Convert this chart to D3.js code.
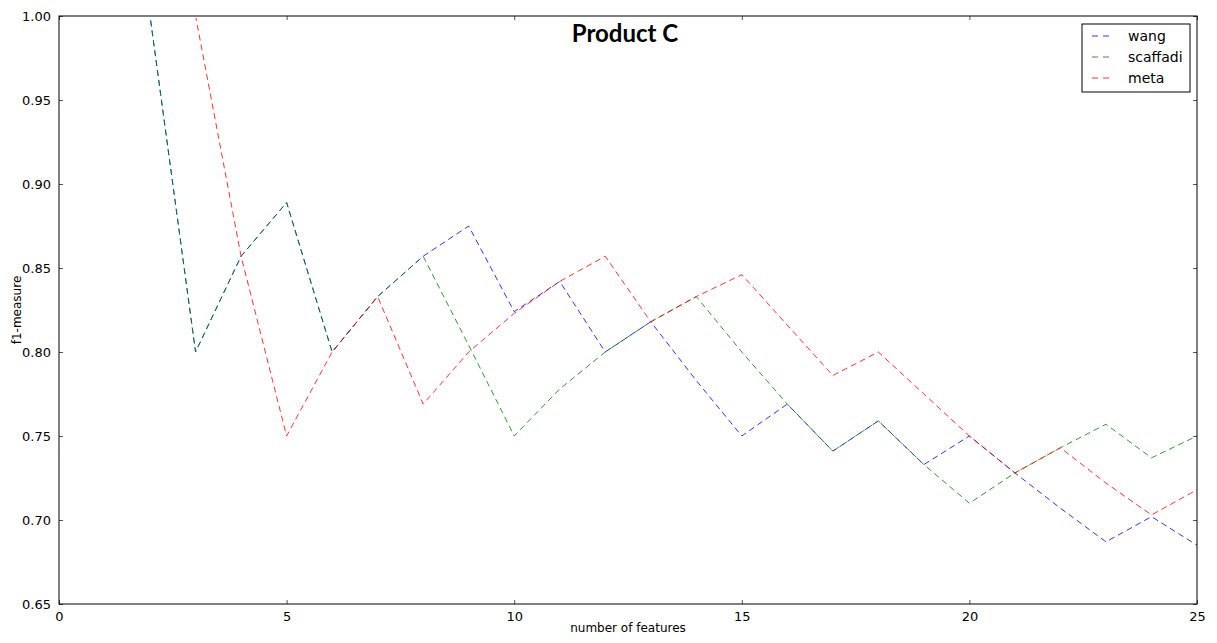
<!DOCTYPE html>
<html>
<head>
<meta charset="utf-8">
<script src="https://cdnjs.cloudflare.com/ajax/libs/d3/7.8.5/d3.min.js"></script>
<style>
	body{margin:0;background:#fff;}
	svg text{font-family:"DejaVu Sans",sans-serif;fill:#000;}
</style>
</head>
<body>
<div id="chartDiv"></div>
<script>
var features=[1,2,3,4,5,6,7,8,9,10,11,12,13,14,15,16,17,18,19,20,21,22,23,24,25];
var wang=[1.0,1.0,0.80,0.857,0.889,0.80,0.833,0.857,0.875,0.824,0.842,0.80,0.818,0.783,0.75,0.769,0.741,0.759,0.733,0.75,0.728,0.707,0.687,0.702,0.685];
var scaffadi=[1.0,1.0,0.80,0.857,0.889,0.80,0.833,0.857,0.804,0.75,0.778,0.80,0.818,0.833,0.80,0.769,0.741,0.759,0.733,0.71,0.728,0.743,0.757,0.737,0.75];
var meta=[1.0,1.0,1.0,0.857,0.75,0.80,0.833,0.769,0.80,0.823,0.842,0.857,0.818,0.833,0.846,0.816,0.786,0.80,0.775,0.75,0.728,0.743,0.722,0.703,0.718];
var seriesNames=["wang","scaffadi","meta"];
var seriesColors=["#0000ff","#008000","#ff0000"];
var xTicks=[0,5,10,15,20,25];
var yTicks=[0.65,0.70,0.75,0.80,0.85,0.90,0.95,1.00];

function drawChart(){
	var width=1217,height=643;
	var left=59,right=1197,top=16,bottom=604;
	var svg=d3.select("#chartDiv").append("svg").attr("width",width).attr("height",height);

	var x=d3.scaleLinear().domain([0,25]).range([left,right]);
	var y=d3.scaleLinear().domain([0.65,1.0]).range([bottom,top]);

	// clip under the top spine so the points at 1.0 stay hidden behind it
	svg.append("defs").append("clipPath").attr("id","plotClip")
		.append("rect").attr("x",left).attr("y",top+2).attr("width",right-left).attr("height",bottom-top-2);

	var allSeries=[wang,scaffadi,meta];
	var line=d3.line()
		.x(function(d,i){return x(features[i]);})
		.y(function(d){return y(d);});

	var lines=svg.append("g").attr("clip-path","url(#plotClip)");
	for(var s=0;s<allSeries.length;s++){
		lines.append("path")
			.attr("d",line(allSeries[s]))
			.attr("fill","none")
			.attr("stroke",seriesColors[s])
			.attr("stroke-width",1)
			.attr("stroke-opacity",0.8)
			.attr("stroke-dasharray","6,4");
	}

	// axes, ticks inside like old matplotlib
	var bottomAxis=d3.axisBottom(x).tickValues(xTicks).tickSize(-4).tickPadding(8).tickFormat(d3.format("d"));
	var topAxis=d3.axisTop(x).tickValues(xTicks).tickSize(-4).tickFormat("");
	var leftAxis=d3.axisLeft(y).tickValues(yTicks).tickSize(-4).tickPadding(8).tickFormat(d3.format(".2f"));
	var rightAxis=d3.axisRight(y).tickValues(yTicks).tickSize(-4).tickFormat("");

	var gb=svg.append("g").attr("transform","translate(0,"+bottom+")").call(bottomAxis);
	var gt=svg.append("g").attr("transform","translate(0,"+top+")").call(topAxis);
	var gl=svg.append("g").attr("transform","translate("+left+",0)").call(leftAxis);
	var gr=svg.append("g").attr("transform","translate("+right+",0)").call(rightAxis);
	[gb,gt,gl,gr].forEach(function(g){
		g.select(".domain").remove();
		g.selectAll(".tick line").attr("stroke","#555");
		g.selectAll(".tick text").attr("font-size",13).style("font-family","DejaVu Sans, sans-serif").attr("fill","#000");
	});

	svg.append("rect")
		.attr("x",left).attr("y",top).attr("width",right-left).attr("height",bottom-top)
		.attr("fill","none").attr("stroke","#000").attr("stroke-width",1);

	svg.append("text")
		.attr("x",(left+right)/2).attr("y",632)
		.attr("text-anchor","middle").attr("font-size",12)
		.text("number of features");
	svg.append("text")
		.attr("transform","translate(21,"+((top+bottom)/2)+") rotate(-90)")
		.attr("text-anchor","middle").attr("font-size",12)
		.text("f1-measure");

	svg.append("text")
		.attr("x",625).attr("y",42)
		.attr("text-anchor","middle")
		.attr("font-size",24).attr("font-weight","bold")
		.style("font-family","Lato, 'Open Sans', sans-serif")
		.text("Product C");

	// legend
	var legend=svg.append("g").attr("transform","translate(1082,24)");
	legend.append("rect").attr("width",108).attr("height",68)
		.attr("fill","#fff").attr("stroke","#000").attr("stroke-width",1);
	for(var k=0;k<seriesNames.length;k++){
		var ly=12+k*21;
		legend.append("line")
			.attr("x1",10).attr("x2",32).attr("y1",ly).attr("y2",ly)
			.attr("stroke",seriesColors[k]).attr("stroke-opacity",0.8)
			.attr("stroke-dasharray","6,5");
		legend.append("text")
			.attr("x",46).attr("y",ly+5)
			.attr("font-size",14)
			.text(seriesNames[k]);
	}
}
drawChart();
</script>
</body>
</html>
